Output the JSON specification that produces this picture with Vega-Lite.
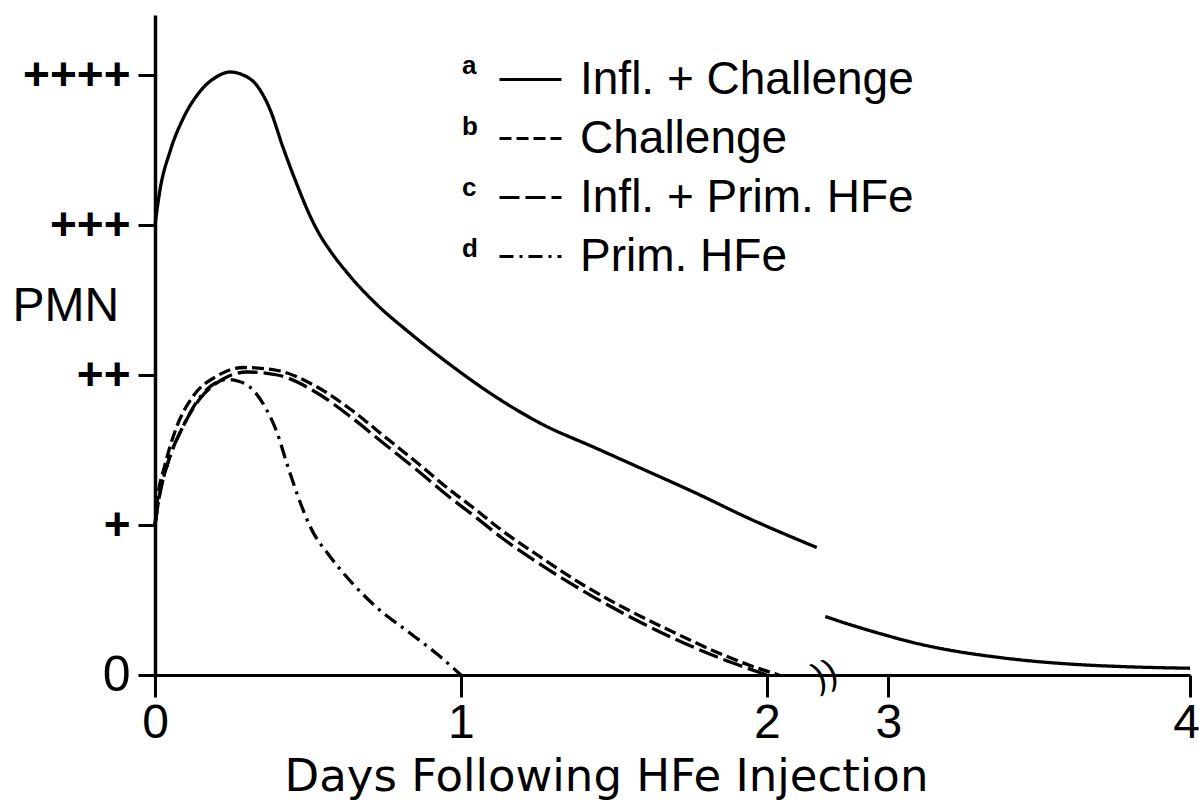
{
  "$schema": "https://vega.github.io/schema/vega-lite/v6.json",
  "width": 1035,
  "height": 660,
  "autosize": {"type": "none"},
  "padding": {"left": 155, "top": 15, "right": 9, "bottom": 131},
  "background": "white",
  "config": {
    "view": {"stroke": null},
    "axis": {"grid": false, "domainColor": "black", "tickColor": "black", "labelColor": "black", "titleColor": "black"}
  },
  "datasets": {
    "curves": [
      {"s": "Infl. + Challenge", "k": "a", "seg": 1, "x": 0, "y": 3.0},
      {"s": "Infl. + Challenge", "k": "a", "seg": 1, "x": 0.016, "y": 3.23},
      {"s": "Infl. + Challenge", "k": "a", "seg": 1, "x": 0.049, "y": 3.49},
      {"s": "Infl. + Challenge", "k": "a", "seg": 1, "x": 0.092, "y": 3.71},
      {"s": "Infl. + Challenge", "k": "a", "seg": 1, "x": 0.147, "y": 3.89},
      {"s": "Infl. + Challenge", "k": "a", "seg": 1, "x": 0.203, "y": 3.99},
      {"s": "Infl. + Challenge", "k": "a", "seg": 1, "x": 0.245, "y": 4.02},
      {"s": "Infl. + Challenge", "k": "a", "seg": 1, "x": 0.288, "y": 4.0},
      {"s": "Infl. + Challenge", "k": "a", "seg": 1, "x": 0.333, "y": 3.93},
      {"s": "Infl. + Challenge", "k": "a", "seg": 1, "x": 0.376, "y": 3.77},
      {"s": "Infl. + Challenge", "k": "a", "seg": 1, "x": 0.418, "y": 3.52},
      {"s": "Infl. + Challenge", "k": "a", "seg": 1, "x": 0.464, "y": 3.27},
      {"s": "Infl. + Challenge", "k": "a", "seg": 1, "x": 0.507, "y": 3.06},
      {"s": "Infl. + Challenge", "k": "a", "seg": 1, "x": 0.54, "y": 2.93},
      {"s": "Infl. + Challenge", "k": "a", "seg": 1, "x": 0.572, "y": 2.83},
      {"s": "Infl. + Challenge", "k": "a", "seg": 1, "x": 0.637, "y": 2.66},
      {"s": "Infl. + Challenge", "k": "a", "seg": 1, "x": 0.725, "y": 2.47},
      {"s": "Infl. + Challenge", "k": "a", "seg": 1, "x": 0.833, "y": 2.28},
      {"s": "Infl. + Challenge", "k": "a", "seg": 1, "x": 0.964, "y": 2.07},
      {"s": "Infl. + Challenge", "k": "a", "seg": 1, "x": 1.117, "y": 1.85},
      {"s": "Infl. + Challenge", "k": "a", "seg": 1, "x": 1.258, "y": 1.68},
      {"s": "Infl. + Challenge", "k": "a", "seg": 1, "x": 1.444, "y": 1.51},
      {"s": "Infl. + Challenge", "k": "a", "seg": 1, "x": 1.608, "y": 1.36},
      {"s": "Infl. + Challenge", "k": "a", "seg": 1, "x": 1.771, "y": 1.21},
      {"s": "Infl. + Challenge", "k": "a", "seg": 1, "x": 1.935, "y": 1.05},
      {"s": "Infl. + Challenge", "k": "a", "seg": 1, "x": 2.163, "y": 0.85},
      {"s": "Infl. + Challenge", "k": "a", "seg": 2, "x": 2.791, "y": 0.39},
      {"s": "Infl. + Challenge", "k": "a", "seg": 2, "x": 2.874, "y": 0.335},
      {"s": "Infl. + Challenge", "k": "a", "seg": 2, "x": 2.983, "y": 0.27},
      {"s": "Infl. + Challenge", "k": "a", "seg": 2, "x": 3.096, "y": 0.21},
      {"s": "Infl. + Challenge", "k": "a", "seg": 2, "x": 3.205, "y": 0.165},
      {"s": "Infl. + Challenge", "k": "a", "seg": 2, "x": 3.348, "y": 0.122},
      {"s": "Infl. + Challenge", "k": "a", "seg": 2, "x": 3.46, "y": 0.096},
      {"s": "Infl. + Challenge", "k": "a", "seg": 2, "x": 3.626, "y": 0.07},
      {"s": "Infl. + Challenge", "k": "a", "seg": 2, "x": 3.791, "y": 0.055},
      {"s": "Infl. + Challenge", "k": "a", "seg": 2, "x": 4.0, "y": 0.045},
      {"s": "Challenge", "k": "b", "seg": 1, "x": 0, "y": 1.0},
      {"s": "Challenge", "k": "b", "seg": 1, "x": 0.01, "y": 1.2},
      {"s": "Challenge", "k": "b", "seg": 1, "x": 0.03, "y": 1.38},
      {"s": "Challenge", "k": "b", "seg": 1, "x": 0.07, "y": 1.65},
      {"s": "Challenge", "k": "b", "seg": 1, "x": 0.125, "y": 1.86},
      {"s": "Challenge", "k": "b", "seg": 1, "x": 0.2, "y": 1.99},
      {"s": "Challenge", "k": "b", "seg": 1, "x": 0.29, "y": 2.05},
      {"s": "Challenge", "k": "b", "seg": 1, "x": 0.4, "y": 2.03},
      {"s": "Challenge", "k": "b", "seg": 1, "x": 0.53, "y": 1.92},
      {"s": "Challenge", "k": "b", "seg": 1, "x": 0.64, "y": 1.77},
      {"s": "Challenge", "k": "b", "seg": 1, "x": 0.75, "y": 1.59},
      {"s": "Challenge", "k": "b", "seg": 1, "x": 0.86, "y": 1.41},
      {"s": "Challenge", "k": "b", "seg": 1, "x": 0.96, "y": 1.24},
      {"s": "Challenge", "k": "b", "seg": 1, "x": 1.05, "y": 1.1},
      {"s": "Challenge", "k": "b", "seg": 1, "x": 1.13, "y": 0.97},
      {"s": "Challenge", "k": "b", "seg": 1, "x": 1.25, "y": 0.8},
      {"s": "Challenge", "k": "b", "seg": 1, "x": 1.4, "y": 0.6},
      {"s": "Challenge", "k": "b", "seg": 1, "x": 1.55, "y": 0.43},
      {"s": "Challenge", "k": "b", "seg": 1, "x": 1.7, "y": 0.28},
      {"s": "Challenge", "k": "b", "seg": 1, "x": 1.85, "y": 0.14},
      {"s": "Challenge", "k": "b", "seg": 1, "x": 1.95, "y": 0.06},
      {"s": "Challenge", "k": "b", "seg": 1, "x": 2.04, "y": 0.0},
      {"s": "Infl. + Prim. HFe", "k": "c", "seg": 1, "x": 0, "y": 1.0},
      {"s": "Infl. + Prim. HFe", "k": "c", "seg": 1, "x": 0.015, "y": 1.2},
      {"s": "Infl. + Prim. HFe", "k": "c", "seg": 1, "x": 0.04, "y": 1.4},
      {"s": "Infl. + Prim. HFe", "k": "c", "seg": 1, "x": 0.09, "y": 1.65},
      {"s": "Infl. + Prim. HFe", "k": "c", "seg": 1, "x": 0.15, "y": 1.85},
      {"s": "Infl. + Prim. HFe", "k": "c", "seg": 1, "x": 0.22, "y": 1.97},
      {"s": "Infl. + Prim. HFe", "k": "c", "seg": 1, "x": 0.3, "y": 2.02},
      {"s": "Infl. + Prim. HFe", "k": "c", "seg": 1, "x": 0.4, "y": 2.0},
      {"s": "Infl. + Prim. HFe", "k": "c", "seg": 1, "x": 0.53, "y": 1.88},
      {"s": "Infl. + Prim. HFe", "k": "c", "seg": 1, "x": 0.64, "y": 1.72},
      {"s": "Infl. + Prim. HFe", "k": "c", "seg": 1, "x": 0.75, "y": 1.54},
      {"s": "Infl. + Prim. HFe", "k": "c", "seg": 1, "x": 0.86, "y": 1.36},
      {"s": "Infl. + Prim. HFe", "k": "c", "seg": 1, "x": 0.96, "y": 1.19},
      {"s": "Infl. + Prim. HFe", "k": "c", "seg": 1, "x": 1.05, "y": 1.05},
      {"s": "Infl. + Prim. HFe", "k": "c", "seg": 1, "x": 1.13, "y": 0.92},
      {"s": "Infl. + Prim. HFe", "k": "c", "seg": 1, "x": 1.25, "y": 0.75},
      {"s": "Infl. + Prim. HFe", "k": "c", "seg": 1, "x": 1.4, "y": 0.56},
      {"s": "Infl. + Prim. HFe", "k": "c", "seg": 1, "x": 1.55, "y": 0.39},
      {"s": "Infl. + Prim. HFe", "k": "c", "seg": 1, "x": 1.7, "y": 0.24},
      {"s": "Infl. + Prim. HFe", "k": "c", "seg": 1, "x": 1.85, "y": 0.11},
      {"s": "Infl. + Prim. HFe", "k": "c", "seg": 1, "x": 1.93, "y": 0.05},
      {"s": "Infl. + Prim. HFe", "k": "c", "seg": 1, "x": 2.0, "y": 0.0},
      {"s": "Prim. HFe", "k": "d", "seg": 1, "x": 0, "y": 1.0},
      {"s": "Prim. HFe", "k": "d", "seg": 1, "x": 0.015, "y": 1.2},
      {"s": "Prim. HFe", "k": "d", "seg": 1, "x": 0.04, "y": 1.4},
      {"s": "Prim. HFe", "k": "d", "seg": 1, "x": 0.09, "y": 1.65},
      {"s": "Prim. HFe", "k": "d", "seg": 1, "x": 0.15, "y": 1.86},
      {"s": "Prim. HFe", "k": "d", "seg": 1, "x": 0.2, "y": 1.95},
      {"s": "Prim. HFe", "k": "d", "seg": 1, "x": 0.235, "y": 1.97},
      {"s": "Prim. HFe", "k": "d", "seg": 1, "x": 0.27, "y": 1.96},
      {"s": "Prim. HFe", "k": "d", "seg": 1, "x": 0.31, "y": 1.92},
      {"s": "Prim. HFe", "k": "d", "seg": 1, "x": 0.353, "y": 1.81},
      {"s": "Prim. HFe", "k": "d", "seg": 1, "x": 0.4, "y": 1.61},
      {"s": "Prim. HFe", "k": "d", "seg": 1, "x": 0.431, "y": 1.41},
      {"s": "Prim. HFe", "k": "d", "seg": 1, "x": 0.464, "y": 1.21},
      {"s": "Prim. HFe", "k": "d", "seg": 1, "x": 0.507, "y": 0.99},
      {"s": "Prim. HFe", "k": "d", "seg": 1, "x": 0.572, "y": 0.79},
      {"s": "Prim. HFe", "k": "d", "seg": 1, "x": 0.637, "y": 0.63},
      {"s": "Prim. HFe", "k": "d", "seg": 1, "x": 0.725, "y": 0.45},
      {"s": "Prim. HFe", "k": "d", "seg": 1, "x": 0.833, "y": 0.28},
      {"s": "Prim. HFe", "k": "d", "seg": 1, "x": 0.922, "y": 0.14},
      {"s": "Prim. HFe", "k": "d", "seg": 1, "x": 1.0, "y": 0.0}
    ]
  },
  "layer": [
    {
      "data": {"name": "curves"},
      "mark": {"type": "line", "interpolate": "monotone", "strokeWidth": 3.3},
      "encoding": {
        "x": {
          "field": "x", "type": "quantitative",
          "scale": {"domain": [0, 2.19, 2.79, 4], "range": [0, 670, 670, 1035], "nice": false, "zero": false},
          "axis": {
            "values": [0, 1, 2, 3, 4], "format": "d",
            "labelFont": "Liberation Sans", "labelFontSize": 48, "labelPadding": 2,
            "labelOffset": {"condition": {"test": "datum.value == 4", "value": -4}, "value": 0},
            "tickSize": 22, "tickWidth": 3, "domainWidth": 3,
            "labelFlush": false, "labelOverlap": false,
            "title": "Days Following HFe Injection",
            "titleFont": "DejaVu Sans", "titleFontSize": 45, "titleFontWeight": "normal",
            "titleX": 451, "titleY": 115, "titleAlign": "center", "titleBaseline": "alphabetic"
          }
        },
        "y": {
          "field": "y", "type": "quantitative",
          "scale": {"domain": [0, 4.4], "nice": false, "zero": false},
          "axis": {
            "values": [0, 1, 2, 3, 4],
            "labelExpr": "['0','+','++','+++','++++'][datum.value]",
            "labelFont": "Liberation Sans",
            "labelFontSize": {"condition": {"test": "datum.value == 0", "value": 50}, "value": 46},
            "labelFontWeight": {"condition": {"test": "datum.value == 0", "value": "normal"}, "value": "bold"},
            "labelPadding": 8, "tickSize": 17, "tickWidth": 3, "domainWidth": 3.5,
            "title": "PMN", "titleAngle": 0, "titleAlign": "left", "titleBaseline": "alphabetic",
            "titleX": -143, "titleY": 305,
            "titleFont": "Liberation Sans", "titleFontSize": 48, "titleFontWeight": "normal"
          }
        },
        "strokeDash": {
          "field": "s", "type": "nominal",
          "scale": {
            "domain": ["Infl. + Challenge", "Challenge", "Infl. + Prim. HFe", "Prim. HFe"],
            "range": [[1, 0], [12, 5], [20, 6], [14, 6, 3, 6]]
          },
          "legend": {
            "orient": "none", "legendX": 343, "legendY": 32, "title": null, "padding": 0,
            "symbolType": "stroke", "symbolSize": 3844, "symbolStrokeWidth": 3, "symbolStrokeColor": "black",
            "labelFont": "Liberation Sans", "labelFontSize": 46, "labelColor": "black",
            "labelOffset": 17, "rowPadding": 3, "labelLimit": 0
          }
        },
        "color": {
          "field": "k", "type": "nominal",
          "scale": {"domain": ["a", "b", "c", "d"], "range": ["black", "black", "black", "black"]},
          "legend": {
            "orient": "none", "legendX": 281, "legendY": 38, "title": null, "padding": 0,
            "symbolOpacity": 0, "symbolSize": 1, "symbolStrokeWidth": 0,
            "labelFont": "Liberation Sans", "labelFontSize": 26, "labelFontWeight": "bold", "labelColor": "black",
            "labelOffset": 0, "rowPadding": 35
          }
        },
        "detail": {"field": "seg", "type": "nominal"}
      }
    },
    {
      "data": {"values": [{"mark": "break"}]},
      "mark": {"type": "text", "text": "))", "fontSize": 36, "font": "Liberation Sans", "angle": -20, "color": "black", "baseline": "middle", "align": "center"},
      "encoding": {"x": {"datum": 2.19}, "y": {"datum": 0}}
    }
  ]
}
